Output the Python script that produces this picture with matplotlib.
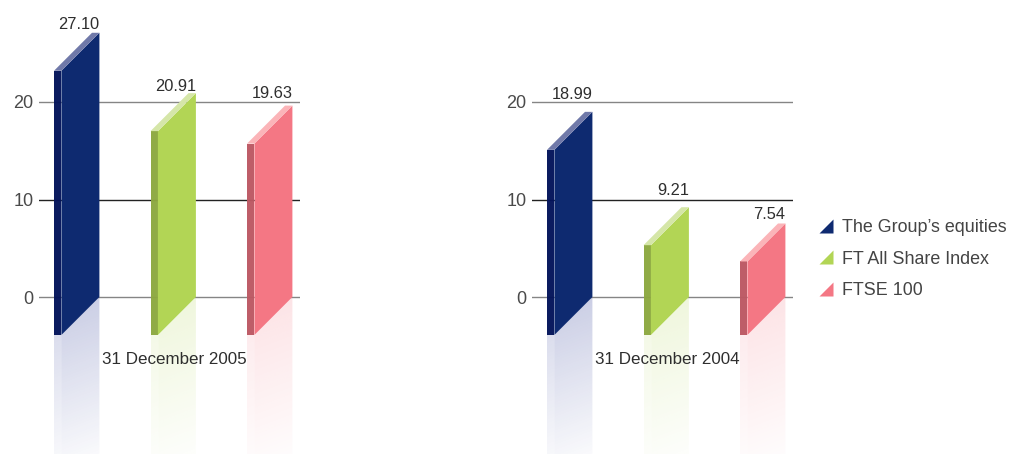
import numpy as np
import matplotlib
matplotlib.use("Agg")
import matplotlib.pyplot as plt
from matplotlib.lines import Line2D
from matplotlib.patches import Polygon
from matplotlib.colors import to_rgb

# ---- data ----
series_names = ["The Group\u2019s equities", "FT All Share Index", "FTSE 100"]
panel_titles = ["31 December 2005", "31 December 2004"]
returns_2005 = [27.10, 20.91, 19.63]
returns_2004 = [18.99, 9.21, 7.54]
y_ticks = [0, 10, 20]

# ---- colours per series ----
front_colors = ["#0E2A70", "#B2D555", "#F47784"]
side_colors = ["#03135A", "#8DA840", "#BC5863"]
top_colors = ["#7079A9", "#D5E6A8", "#FBB4B8"]
reflection_colors = ["#2C3A96", "#B2D555", "#F47784"]
reflection_peaks = [0.27, 0.22, 0.22]
grid_colors = {0: "#858585", 10: "#222222", 20: "#858585"}
text_color = "#2E2E2E"
tick_color = "#4A4A4A"

# ---- layout in pixels ----
W, H = 1011, 454
PX_PER_UNIT = 9.75
ZERO_Y = 297.0
BAR_STEP = 96.5
FIRST_BAR = 15.0
SIDE_W = 7.4
FRONT_W = 38.0
DEPTH = 38.0
PANEL_LEFTS = [39, 532]
PANEL_W = 261
LABEL_GAPS = [[1, -1, 5], [10, 9, 1]]
TITLE_X = [135, 135.5]
TITLE_Y = 359

plt.rcParams["font.family"] = ["Liberation Sans", "DejaVu Sans"]
fig = plt.figure(figsize=(W / 100, H / 100), dpi=100, facecolor="white")


def draw_reflection(ax, x0, x1, x_front, x_right, depth_v, y_min, color, peak):
    """Fading mirror image under a bar; follows the slanted lower edge."""
    ny, nx = 160, 60
    ys = np.linspace(0, y_min, ny)
    xs = np.linspace(x0, x1, nx)
    xx, yy = np.meshgrid(xs, ys)
    u = (xx - x0) / (x1 - x0)
    span = -y_min * 1.12
    fade = np.clip(1 - (-yy + 0.45 * depth_v * u) / (span + 0.45 * depth_v), 0, 1)
    rgba = np.zeros((ny, nx, 4))
    rgba[..., :3] = to_rgb(color)
    rgba[..., 3] = peak * fade
    rgba[..., 3] *= np.where(xx < x_front, 0.8, 1.0)
    im = ax.imshow(rgba, extent=(x0, x1, y_min, 0), origin="upper", aspect="auto",
                   interpolation="bilinear", zorder=1)
    clip = Polygon([(x0, -depth_v), (x_front, -depth_v), (x_right, 0), (x1, y_min), (x0, y_min)],
                   transform=ax.transData, fill=False, edgecolor="none")
    ax.add_patch(clip)
    im.set_clip_path(clip)


def draw_panel(left_px, values, title, gaps, title_x):
    ax = fig.add_axes([left_px / W, 0, PANEL_W / W, 1])
    ax.patch.set_alpha(0)
    x_unit = BAR_STEP
    xlim = (-FIRST_BAR / x_unit, (PANEL_W - FIRST_BAR) / x_unit)
    y_min = (ZERO_Y - H) / PX_PER_UNIT
    y_max = ZERO_Y / PX_PER_UNIT

    side = SIDE_W / x_unit
    front = FRONT_W / x_unit
    depth_v = DEPTH / PX_PER_UNIT

    for tick in y_ticks:
        ax.axhline(tick, color=grid_colors[tick], lw=1.0, zorder=0.5)

    for i, v in enumerate(values):
        xl = float(i)
        xf = xl + side
        xr = xf + front
        b = -depth_v
        t = v - depth_v
        ax.add_patch(Polygon([(xl, b), (xf, b), (xf, t), (xl, t)], closed=True,
                             facecolor=side_colors[i], edgecolor="none", alpha=0.97, zorder=2))
        ax.add_patch(Polygon([(xf, b), (xr, 0), (xr, v), (xf, t)], closed=True,
                             facecolor=front_colors[i], edgecolor="none", zorder=3))
        ax.add_patch(Polygon([(xl, t), (xf, t), (xr, v), (xr - side, v)], closed=True,
                             facecolor=top_colors[i], edgecolor="none", zorder=3))
        draw_reflection(ax, xl, xr, xf, xr, depth_v, y_min, reflection_colors[i],
                        reflection_peaks[i])
        ax.annotate(f"{v:.2f}", xy=(xr, v), xytext=(0, gaps[i]), textcoords="offset pixels",
                    ha="right", va="bottom", fontsize=11.75, color=text_color, zorder=5)

    ax.text(title_x / x_unit + xlim[0], y_max - TITLE_Y / PX_PER_UNIT, title,
            ha="center", va="center", fontsize=12.25, color=text_color, zorder=6,
            transform=ax.transData)

    ax.set_xlim(*xlim)
    ax.set_ylim(y_min, y_max)
    ax.set_xticks([])
    ax.set_yticks(y_ticks)
    ax.tick_params(axis="y", length=0, pad=4, labelsize=13, labelcolor=tick_color)
    for spine in ax.spines.values():
        spine.set_visible(False)
    return ax


for left, vals, title, gaps, tx in zip(PANEL_LEFTS, [returns_2005, returns_2004],
                                       panel_titles, LABEL_GAPS, TITLE_X):
    draw_panel(left, vals, title, gaps, tx)

# legend with right-angled triangle keys
triangle = [(-1, -1), (1, -1), (1, 1)]
handles = [Line2D([], [], linestyle="none", marker=triangle, markersize=10.5,
                  markerfacecolor=c, markeredgecolor="none") for c in front_colors]
fig.legend(handles, series_names, loc="center left",
           bbox_to_anchor=(817 / W, 1 - 259 / H), frameon=False, fontsize=12.85,
           labelcolor="#444444", handlelength=1.0, handletextpad=0.4,
           labelspacing=0.82, borderpad=0, borderaxespad=0)

fig.savefig("out.png", dpi=100, facecolor="white")
